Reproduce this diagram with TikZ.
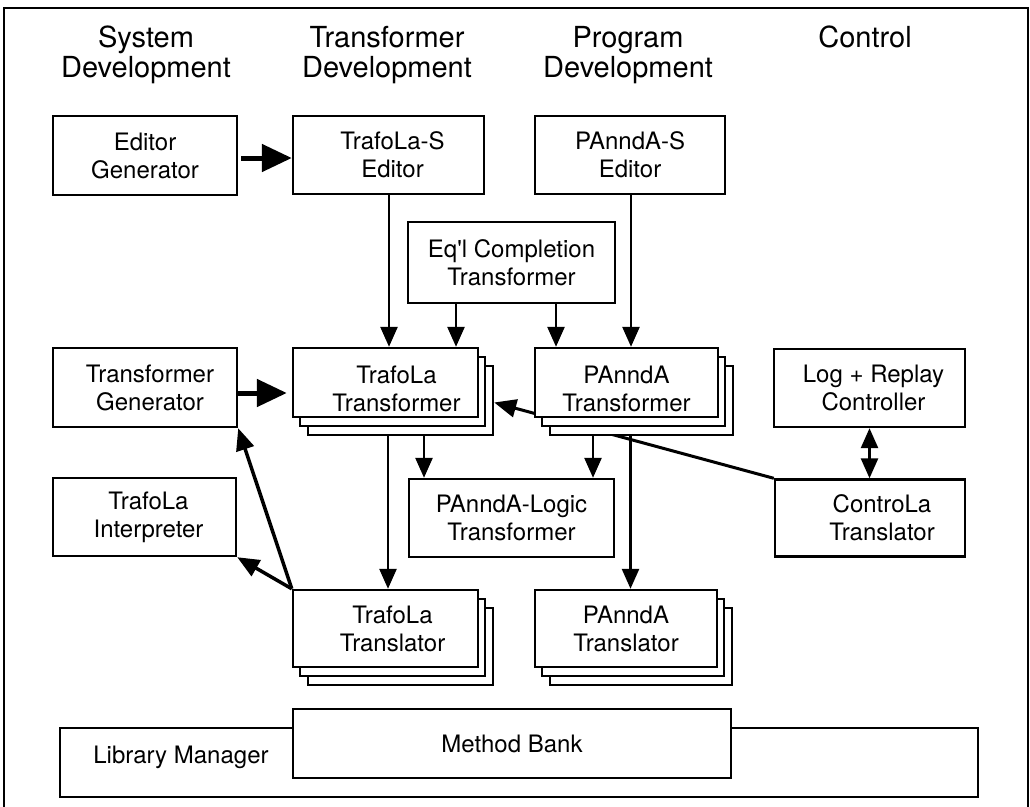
\documentclass[tikz,border=0pt]{standalone}
\usepackage{fontspec}
\setmainfont{TeX Gyre Heros}
\usetikzlibrary{arrows.meta,calc}
\pgfdeclarelayer{back}
\pgfsetlayers{back,main}

% raises the first line so the two-line label sits lower in its box
\newcommand\lowstrut{\rule{0pt}{31pt}}

% two white copies behind a stacked box: centre x, centre y, width, height
\newcommand\stackcopies[4]{%
  \foreach \dx/\dy in {15/18, 7/9} {%
    \draw[line width=2.4pt, fill=white]
      ({#1-#3/2+\dx},{#2-#4/2+\dy}) rectangle ({#1+#3/2+\dx},{#2+#4/2+\dy});
  }%
}

\tikzset{
  box/.style={draw, line width=2.4pt, fill=white, align=center, inner sep=0pt,
              font=\fontsize{24}{28}\selectfont},
  head/.style={align=center, inner sep=0pt, font=\fontsize{29}{30}\selectfont},
  plain/.style={inner sep=0pt, font=\fontsize{24}{28}\selectfont},
  thinarrow/.style={line width=2.6pt, -{Triangle[length=20pt,width=17pt]}},
  bigarrow/.style={line width=5pt, -{Triangle[length=30pt,width=27pt]}},
  diagarrow/.style={line width=3.5pt, -{Triangle[length=22pt,width=18pt]}},
  twoway/.style={line width=2.6pt, {Triangle[length=20pt,width=17pt]}-{Triangle[length=20pt,width=17pt]}},
}

\begin{document}
\begin{tikzpicture}[x=1pt,y=-1pt]
\useasboundingbox (0,0) rectangle (1030,806);

% outer frame
\draw[line width=2.8pt] (4,815) -- (4,8) -- (1028,8) -- (1028,815);

% column headings
\node[head] (hsys)  at (146,55) {System\\Development};
\node[head] (htr)   at (387,55) {Transformer\\Development};
\node[head] (hprog) at (628,55) {Program\\Development};
\node[head, anchor=base] (hctl) at (865,47) {Control};

% top row
\node[box, minimum width=184pt, minimum height=79pt] (edgen)    at (145,155.5) {Editor\\Generator};
\node[box, minimum width=191pt, minimum height=78pt] (tseditor) at (388.5,155)  {\hspace*{8pt}TrafoLa-S\\\hspace*{8pt}Editor};
\node[box, minimum width=190pt, minimum height=78pt] (pseditor) at (630,155)    {PAnndA-S\\Editor};

\node[box, minimum width=207pt, minimum height=81pt] (eqcomp) at (511.5,262.5) {Eq\textquotesingle l Completion\\Transformer};

% transformer row
\node[box, minimum width=184pt, minimum height=79pt] (tgen) at (145,387.5) {\hspace*{10pt}Transformer\\\hspace*{10pt}Generator};

\stackcopies{385.5}{382.5}{185}{69}
\node[box, minimum width=185pt, minimum height=69pt] (ttrans) at (385.5,382.5)
  {\hspace*{22pt}\lowstrut TrafoLa\\\hspace*{22pt}Transformer};

\stackcopies{626.5}{382.5}{183}{69}
\node[box, minimum width=183pt, minimum height=69pt] (ptrans) at (626.5,382.5)
  {\lowstrut PAnndA\\Transformer};

\node[box, minimum width=191pt, minimum height=78pt] (logrep) at (869.5,388) {\hspace*{8pt}Log + Replay\\\hspace*{8pt}Controller};

% middle row
\node[box, minimum width=183pt, minimum height=78pt] (tinterp)  at (144.5,517) {\hspace*{8pt}TrafoLa\\\hspace*{8pt}Interpreter};
\node[box, minimum width=205pt, minimum height=78pt] (plogic)   at (511.5,518) {PAnndA-Logic\\Transformer};
\node[box, minimum width=190pt, minimum height=77pt] (controla) at (870,518)   {\hspace*{24pt}ControLa\\\hspace*{24pt}Translator};

% translators
\stackcopies{385.5}{628.5}{185}{77}
\node[box, minimum width=185pt, minimum height=77pt] (ttransl) at (385.5,628.5)
  {\hspace*{14pt}TrafoLa\\\hspace*{14pt}Translator};

\stackcopies{626}{628.5}{182}{77}
\node[box, minimum width=182pt, minimum height=77pt] (ptransl) at (626,628.5)
  {PAnndA\\Translator};

% library manager with the method bank laid over it
\node[box, minimum width=918pt, minimum height=69pt] (libman) at (519,762.5) {};
\node[plain] (libmantext) at (181,757) {Library Manager};
\node[box, minimum width=438pt, minimum height=69pt] (mbank) at (512,743.5) {Method Bank};

% connectors, kept behind the boxes
\begin{pgfonlayer}{back}
  \coordinate (eg) at ([yshift=-2.5pt]edgen.east);
  \draw[bigarrow, shorten <=3pt] (eg) -- (eg -| tseditor.west);

  \coordinate (tg) at ([yshift=-5.5pt]tgen.east);
  \draw[bigarrow] (tg) -- ([xshift=-5pt]tg -| ttrans.west);

  \coordinate (tse) at ([xshift=0.5pt]tseditor.south);
  \draw[thinarrow] (tse) -- (tse |- ttrans.north);

  \coordinate (eq1) at ([xshift=-55.5pt]eqcomp.south);
  \draw[thinarrow] (eq1) -- (eq1 |- ttrans.north);
  \coordinate (eq2) at ([xshift=44.5pt]eqcomp.south);
  \draw[thinarrow] (eq2) -- (eq2 |- ptrans.north);

  \coordinate (pse) at ([xshift=1pt]pseditor.south);
  \draw[thinarrow] (pse) -- (pse |- ptrans.north);

  \coordinate (tt1) at ([xshift=2.5pt]ttrans.south);
  \draw[thinarrow] (tt1) -- (tt1 |- ttransl.north);
  \coordinate (tt2) at ([xshift=38.5pt]ttrans.south);
  \draw[thinarrow] (tt2) -- (tt2 |- plogic.north);

  \coordinate (pt1) at ([xshift=-33.5pt]ptrans.south);
  \draw[thinarrow] (pt1) -- (pt1 |- plogic.north);
  \coordinate (pt2) at ([xshift=4pt]ptrans.south);
  \draw[thinarrow] (pt2) -- (pt2 |- ptransl.north);

  \draw[twoway] (logrep.south) -- (logrep.south |- controla.north);

  \coordinate (ttback) at ([xshift=15pt,yshift=-20pt]ttrans.east);
  \draw[line width=3pt, -{Triangle[length=22pt,width=18pt]}] (controla.north west) -- (ttback);

  \draw[diagarrow] (ttransl.north west) -- (tgen.south east);
  \draw[diagarrow] (ttransl.north west) -- (tinterp.south east);
\end{pgfonlayer}
\end{tikzpicture}
\end{document}
